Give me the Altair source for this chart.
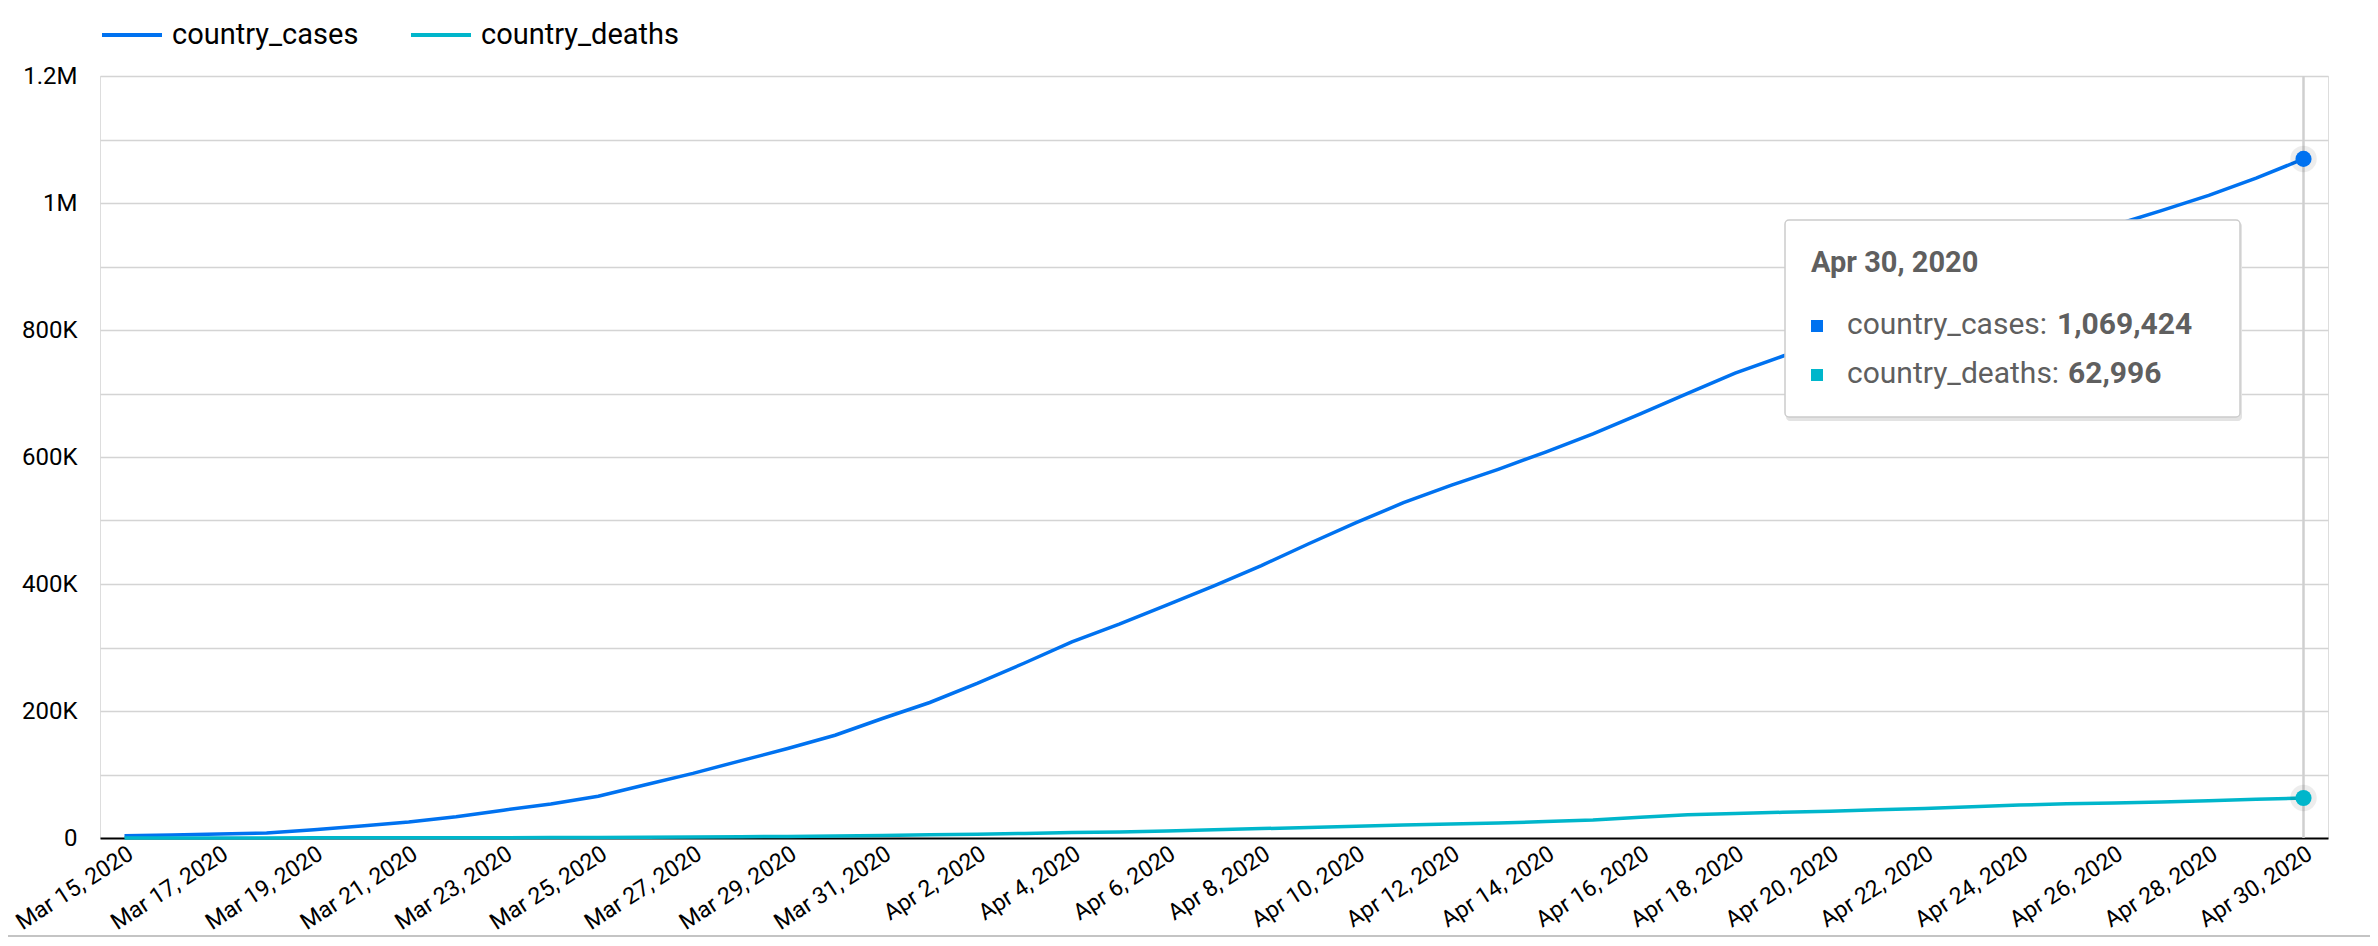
import altair as alt
import pandas as pd

# ---------------- data ----------------
dates = [d.strftime("%Y-%m-%dT00:00:00") for d in pd.date_range("2020-03-15", "2020-04-30", freq="D")]

country_cases = [
    3600, 4700, 6400, 7800, 13100, 18900, 25200, 33300, 43800, 53700, 65700,
    83800, 101700, 121500, 140900, 161800, 188200,
    213400, 243400, 275600, 309000, 336800, 366700, 397000, 429000, 463400,
    496500, 528000, 555300, 580600, 607700, 636400, 667800, 700300, 732200,
    758700, 784300, 809300, 838000, 867500, 905000, 938000, 965000, 988000,
    1012000, 1039000, 1069424,
]
country_deaths = [
    68, 89, 114, 149, 205, 255, 320, 420, 555, 720, 965, 1260, 1670, 2080,
    2470, 2980, 3880,
    4940, 5930, 7130, 8480, 9600, 10900, 12900, 14800, 16700, 18700, 20600,
    22100, 23600, 25900, 28400, 32800, 36800, 38600, 40500, 42100, 44500,
    46600, 49200, 51900, 53800, 55300, 56700, 58600, 60900, 62996,
]

series_names = ["country_cases", "country_deaths"]
series_colors = ["#0072f0", "#00b6cb"]
y_ticks = [0, 100000, 200000, 300000, 400000, 500000, 600000, 700000,
           800000, 900000, 1000000, 1100000, 1200000]

df = pd.DataFrame({
    "date": dates + dates,
    "series": [series_names[0]] * len(dates) + [series_names[1]] * len(dates),
    "value": country_cases + country_deaths,
})

last_date = dates[-1]
last_df = df[df["date"] == last_date]

x_tick_vals = []
for d in pd.date_range("2020-03-15", "2020-04-30", freq="2D"):
    x_tick_vals.append(alt.DateTime(year=d.year, month=d.month, date=d.day))

tip_title = pd.Timestamp(last_date).strftime("%b %-d, %Y")
tip_df = pd.DataFrame({
    "title": [tip_title],
    "lab1": [series_names[0] + ":"],
    "val1": [f"{country_cases[-1]:,}"],
    "lab2": [series_names[1] + ":"],
    "val2": [f"{country_deaths[-1]:,}"],
})

W, H = 2228, 762
TOP = 68
FONT = "Roboto"
TIP_GRAY = "#5f5f5f"

x_enc = alt.X(
    "date:T",
    scale=alt.Scale(
        domain=[alt.DateTime(year=2020, month=3, date=15),
                alt.DateTime(year=2020, month=4, date=30)],
        nice=False, padding=24.5),
    axis=alt.Axis(
        title=None, values=x_tick_vals, format="%b %-d, %Y",
        labelAngle=-33, labelAlign="right", labelBaseline="top",
        labelPadding=4, labelFontSize=23, labelFont=FONT, labelColor="#000000",
        labelOverlap=False, labelFlush=False, ticks=False, domain=False, grid=False,
    ),
)

y_enc = alt.Y(
    "value:Q",
    scale=alt.Scale(domain=[0, 1200000], nice=False, zero=True),
    axis=alt.Axis(
        title=None, values=y_ticks,
        labelExpr="datum.value % 200000 === 0 ? replace(format(datum.value, '~s'), 'k', 'K') : ''",
        labelFontSize=24, labelFont=FONT, labelColor="#000000", labelPadding=23,
        ticks=False, domain=False, grid=True,
        gridColor=alt.condition("datum.value === 0", alt.value("#000000"), alt.value("#d4d4d4")),
        gridWidth=alt.condition("datum.value === 0", alt.value(2), alt.value(1.5)),
    ),
)

color_enc = alt.Color(
    "series:N",
    scale=alt.Scale(domain=series_names, range=series_colors),
    legend=alt.Legend(
        title=None, orient="none", legendX=0, legendY=-73, direction="horizontal",
        symbolType="stroke", symbolSize=3600, symbolStrokeWidth=4,
        labelFontSize=29, labelFont=FONT, labelColor="#000000", labelOffset=8,
        columnPadding=44, labelLimit=0,
    ),
)

lines = alt.Chart(df).mark_line(strokeWidth=3.5).encode(x=x_enc, y=y_enc, color=color_enc)

hover_rule = alt.Chart(last_df).mark_rule(color="#cfcfcf", strokeWidth=2).encode(
    x="date:T", y=alt.value(0), y2=alt.value(H)
)

halo = alt.Chart(last_df).mark_circle(size=700, color="#000000", opacity=0.07).encode(
    x="date:T", y="value:Q"
)
pts = alt.Chart(last_df).mark_circle(size=260, opacity=1).encode(
    x="date:T", y="value:Q",
    color=alt.Color("series:N", scale=alt.Scale(domain=series_names, range=series_colors), legend=None),
)

tip = alt.Chart(tip_df)
shadow = tip.mark_rect(fill="#e3e3e3", cornerRadius=4).encode(
    x=alt.value(1686), x2=alt.value(2142), y=alt.value(146), y2=alt.value(345)
)
box = tip.mark_rect(fill="#ffffff", stroke="#cccccc", strokeWidth=1.5, cornerRadius=4).encode(
    x=alt.value(1685), x2=alt.value(2140), y=alt.value(144), y2=alt.value(341)
)
title_txt = tip.mark_text(align="left", baseline="alphabetic", font=FONT, fontSize=29,
                          fontWeight="bold", color=TIP_GRAY).encode(
    x=alt.value(1711), y=alt.value(196), text="title:N"
)
lab1 = tip.mark_text(align="left", baseline="middle", font=FONT, fontSize=30, color=TIP_GRAY).encode(
    x=alt.value(1747), y=alt.value(249), text="lab1:N"
)
val1 = tip.mark_text(align="left", baseline="middle", font=FONT, fontSize=30, fontWeight="bold",
                     color=TIP_GRAY).encode(x=alt.value(1957), y=alt.value(249), text="val1:N")
lab2 = tip.mark_text(align="left", baseline="middle", font=FONT, fontSize=30, color=TIP_GRAY).encode(
    x=alt.value(1747), y=alt.value(298), text="lab2:N"
)
val2 = tip.mark_text(align="left", baseline="middle", font=FONT, fontSize=30, fontWeight="bold",
                     color=TIP_GRAY).encode(x=alt.value(1968), y=alt.value(298), text="val2:N")
sq1 = tip.mark_square(size=144, color=series_colors[0], opacity=1).encode(
    x=alt.value(1717), y=alt.value(250)
)
sq2 = tip.mark_square(size=144, color=series_colors[1], opacity=1).encode(
    x=alt.value(1717), y=alt.value(299)
)

bottom_line = tip.mark_rule(color="#c4c4c4", strokeWidth=2).encode(
    x=alt.value(-100), x2=alt.value(2300), y=alt.value(930 - TOP - 2)
)

chart = alt.layer(
    lines, hover_rule, halo, pts, shadow, box, title_txt, lab1, val1, lab2, val2, sq1, sq2, bottom_line
).properties(
    width=W, height=H,
    autosize="none",
    padding={"left": 92, "top": TOP, "right": 42, "bottom": 930 - TOP - H},
).configure_view(stroke=None).configure(background="#ffffff")

chart.save("out.html", embed_options={"renderer": "svg", "actions": False})
